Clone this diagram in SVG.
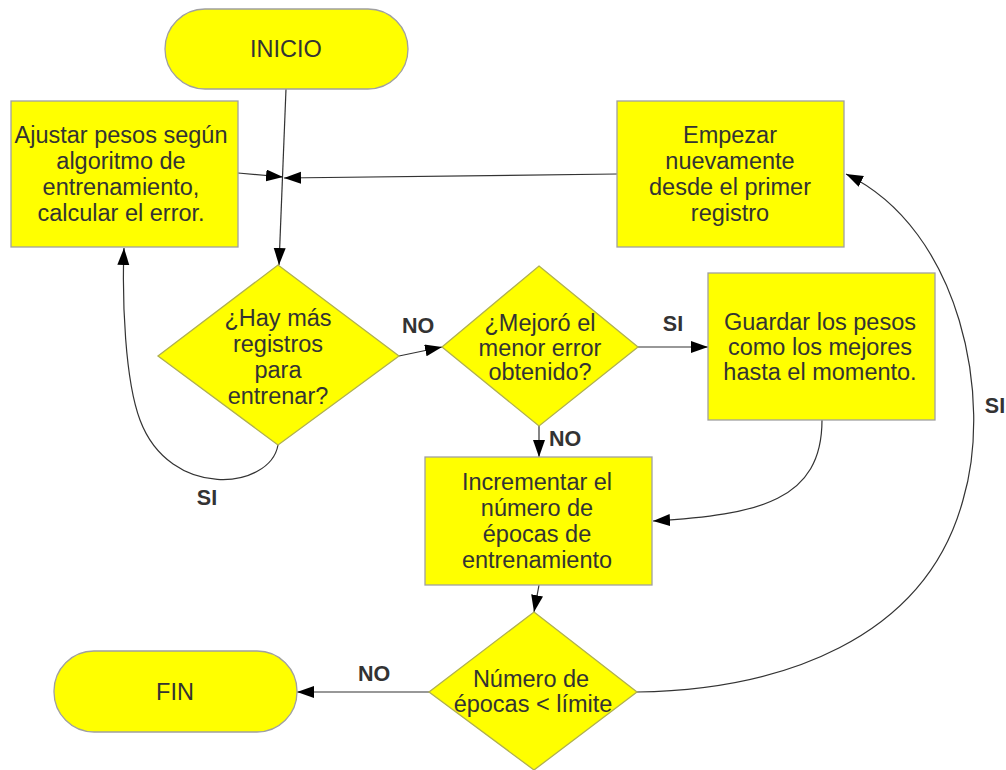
<svg xmlns="http://www.w3.org/2000/svg" width="1006" height="770" viewBox="0 0 1006 770">
<defs>
<marker id="ah" markerUnits="userSpaceOnUse" markerWidth="18" markerHeight="13" refX="17" refY="6" orient="auto">
<path d="M0,0 L17,6 L0,12 z" fill="#000"/>
</marker>
<style>
.n{fill:#ffff00;stroke:#a0a0a0;stroke-width:1.3}
.d{fill:#ffff00;stroke:#b0b050;stroke-width:1.3}
.t{font-family:"Liberation Sans",Arial,sans-serif;font-size:23.5px;fill:#333;text-anchor:middle}
.l{font-family:"Liberation Sans",Arial,sans-serif;font-size:21.5px;font-weight:bold;fill:#333;text-anchor:middle}
.c{fill:none;stroke:#333;stroke-width:1.2;marker-end:url(#ah)}
</style>
</defs>
<rect width="1006" height="770" fill="#fff"/>
<g id="connectors">
<path class="c" d="M286,89 L279,265"/>
<path class="c" d="M238,173 L283,177"/>
<path class="c" d="M617,174 L284,178"/>
<path class="c" d="M399,356 L442,347"/>
<path class="c" d="M638,347 L708,347"/>
<path class="c" d="M539,426 L539,457"/>
<path class="c" d="M822,420 C822,500 760,515 653,521"/>
<path class="c" d="M539,585 L534,612"/>
<path class="c" d="M278,445 C270,490 170,500 140,420 C125,380 122,300 124,248"/>
<path class="c" d="M429,692 L297,692"/>
<path class="c" d="M637,692 C780,690 925,640 963,500 C993,400 962,230 846,174"/>
</g>
<g id="labels">
<text class="l" x="418" y="333">NO</text>
<text class="l" x="673" y="331">SI</text>
<text class="l" x="565" y="446">NO</text>
<text class="l" x="207" y="505">SI</text>
<text class="l" x="995" y="413">SI</text>
<text class="l" x="374" y="681">NO</text>
</g>
<g id="inicio">
<rect class="n" x="165" y="9" width="243" height="80" rx="40" ry="40" stroke="#b0b050"/>
<text class="t" x="286" y="57">INICIO</text>
</g>
<g id="ajustar">
<rect class="n" x="11" y="101" width="227" height="146"/>
<text class="t" x="121" y="143">Ajustar pesos según</text>
<text class="t" x="121" y="169">algoritmo de</text>
<text class="t" x="121" y="195">entrenamiento,</text>
<text class="t" x="121" y="221">calcular el error.</text>
</g>
<g id="empezar">
<rect class="n" x="617" y="101" width="227" height="146"/>
<text class="t" x="730" y="143">Empezar</text>
<text class="t" x="730" y="169">nuevamente</text>
<text class="t" x="730" y="195">desde el primer</text>
<text class="t" x="730" y="221">registro</text>
</g>
<g id="hay-mas">
<polygon class="d" points="278,265 399,356 278,445 158,356"/>
<text class="t" x="278" y="326">¿Hay más</text>
<text class="t" x="278" y="352">registros</text>
<text class="t" x="278" y="378">para</text>
<text class="t" x="278" y="404">entrenar?</text>
</g>
<g id="mejoro">
<polygon class="d" points="539,266 638,347 539,426 442,347"/>
<text class="t" x="540" y="331">¿Mejoró el</text>
<text class="t" x="540" y="356">menor error</text>
<text class="t" x="540" y="380">obtenido?</text>
</g>
<g id="guardar">
<rect class="n" x="708" y="273" width="227" height="147"/>
<text class="t" x="820" y="330">Guardar los pesos</text>
<text class="t" x="820" y="355">como los mejores</text>
<text class="t" x="820" y="380">hasta el momento.</text>
</g>
<g id="incrementar">
<rect class="n" x="425" y="457" width="227" height="128"/>
<text class="t" x="537" y="490">Incrementar el</text>
<text class="t" x="537" y="516">número de</text>
<text class="t" x="537" y="542">épocas de</text>
<text class="t" x="537" y="568">entrenamiento</text>
</g>
<g id="numero-epocas">
<polygon class="d" points="534,612 637,692 534,770 429,692"/>
<text class="t" x="531" y="687">Número de</text>
<text class="t" x="533" y="712">épocas &lt; límite</text>
</g>
<g id="fin">
<rect class="n" x="54" y="651" width="243" height="81" rx="40" ry="40" stroke="#b0b050"/>
<text class="t" x="175" y="700">FIN</text>
</g>
</svg>
